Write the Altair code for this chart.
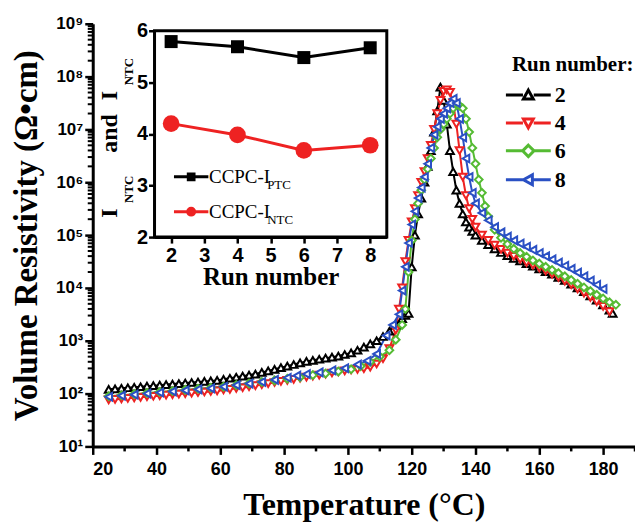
import altair as alt
import pandas as pd

# ---------------- main chart data (log10 of resistivity) -------------
run2_T = [25, 27, 29, 31, 33, 35, 37, 39, 41, 43, 45, 47, 49, 51, 53, 55, 57, 59, 61, 63, 65, 67, 69, 71,
          73, 75, 77, 79, 81, 83, 85, 87, 89, 91, 93, 95, 97, 99, 101, 103, 105, 107, 109, 111, 113, 115,
          117, 118, 119, 120, 121, 122, 123, 124, 125, 126, 127, 128, 129, 130, 131, 132, 133, 134, 135,
          136, 137, 138, 139, 140, 142, 144, 146, 148, 150, 152, 154, 156, 158, 160, 162, 164, 166, 168,
          170, 172, 174, 176, 178, 180, 182, 183]
run2_log = [2.08, 2.09, 2.10, 2.11, 2.12, 2.13, 2.14, 2.15, 2.16, 2.17, 2.18, 2.19, 2.20, 2.21, 2.22, 2.23,
            2.24, 2.25, 2.27, 2.29, 2.31, 2.33, 2.35, 2.37, 2.40, 2.43, 2.46, 2.49, 2.52, 2.55, 2.58, 2.61,
            2.63, 2.65, 2.67, 2.69, 2.71, 2.74, 2.77, 2.82, 2.88, 2.94, 3.00, 3.08, 3.18, 3.30, 3.42, 3.48,
            3.52, 4.40, 5.00, 5.40, 5.70, 6.00, 6.30, 6.60, 6.95, 7.35, 7.80, 7.55, 7.10, 6.60, 6.20, 5.85,
            5.60, 5.40, 5.25, 5.15, 5.07, 5.00, 4.90, 4.82, 4.74, 4.67, 4.61, 4.56, 4.51, 4.46, 4.41, 4.36,
            4.31, 4.26, 4.20, 4.14, 4.07, 4.00, 3.93, 3.85, 3.77, 3.68, 3.58, 3.52]

run4_T = [25, 27, 29, 31, 33, 35, 37, 39, 41, 43, 45, 47, 49, 51, 53, 55, 57, 59, 61, 63, 65, 67, 69, 71,
          73, 75, 77, 79, 81, 83, 85, 87, 89, 91, 93, 95, 97, 99, 101, 103, 105, 107, 109, 111, 113, 115,
          116, 117, 118, 119, 120, 121, 122, 123, 124, 125, 126, 127, 128, 129, 130, 131, 132, 133, 134,
          135, 136, 137, 138, 139, 140, 142, 144, 146, 148, 150, 152, 154, 156, 158, 160, 162, 164, 166,
          168, 170, 172, 174, 176, 178, 180, 182]
run4_log = [1.88, 1.89, 1.90, 1.91, 1.92, 1.93, 1.94, 1.95, 1.96, 1.97, 1.98, 1.99, 2.00, 2.01, 2.02, 2.03,
            2.04, 2.05, 2.07, 2.08, 2.10, 2.11, 2.13, 2.15, 2.17, 2.19, 2.21, 2.23, 2.25, 2.27, 2.29, 2.31,
            2.33, 2.35, 2.37, 2.39, 2.41, 2.43, 2.45, 2.46, 2.47, 2.50, 2.56, 2.66, 2.85, 3.20, 3.60, 4.00,
            4.50, 4.90, 5.25, 5.50, 5.75, 6.00, 6.20, 6.45, 6.70, 7.00, 7.30, 7.55, 7.72, 7.75, 7.70, 7.50,
            7.10, 6.60, 6.10, 5.75, 5.50, 5.30, 5.15, 5.00, 4.90, 4.81, 4.73, 4.66, 4.60, 4.54, 4.48, 4.43,
            4.38, 4.32, 4.26, 4.20, 4.13, 4.06, 3.98, 3.90, 3.82, 3.74, 3.65, 3.55]

run6_T = [25, 29, 33, 37, 41, 45, 49, 53, 57, 61, 65, 69, 73, 77, 81, 85, 89, 93, 97, 101, 104, 107, 110,
          113, 115, 117, 118, 119, 120, 121, 122, 123, 124, 125, 126, 127, 128, 129, 130, 131, 132, 133,
          134, 135, 136, 137, 138, 139, 140, 141, 142, 143, 144, 146, 148, 150, 152, 154, 156, 158, 160,
          162, 164, 166, 168, 170, 172, 174, 176, 178, 180, 182, 184]
run6_log = [1.95, 1.97, 1.99, 2.01, 2.03, 2.05, 2.07, 2.09, 2.11, 2.13, 2.16, 2.19, 2.22, 2.25, 2.28, 2.31,
            2.35, 2.38, 2.42, 2.46, 2.52, 2.60, 2.70, 2.82, 3.02, 3.30, 3.60, 4.30, 4.90, 5.30, 5.60, 5.85,
            6.05, 6.25, 6.45, 6.65, 6.85, 7.00, 7.10, 7.20, 7.30, 7.40, 7.47, 7.45, 7.40, 7.20, 6.95, 6.65,
            6.35, 6.05, 5.80, 5.55, 5.35, 5.10, 4.95, 4.83, 4.74, 4.66, 4.59, 4.52, 4.46, 4.40, 4.34, 4.28,
            4.22, 4.15, 4.08, 4.01, 3.94, 3.87, 3.80, 3.73, 3.68]

run8_T = [25, 29, 33, 37, 41, 45, 49, 53, 57, 61, 65, 69, 73, 77, 81, 84, 87, 91, 95, 99, 103, 106, 109,
          112, 114, 116, 117, 118, 119, 120, 121, 122, 123, 124, 125, 126, 127, 128, 129, 130, 131, 132,
          133, 134, 135, 136, 137, 138, 139, 140, 142, 144, 146, 148, 150, 152, 154, 156, 158, 160, 162,
          164, 166, 168, 170, 172, 174, 176, 178, 180]
run8_log = [1.94, 1.96, 1.98, 2.00, 2.02, 2.04, 2.06, 2.08, 2.10, 2.13, 2.16, 2.19, 2.22, 2.26, 2.30, 2.34,
            2.37, 2.40, 2.44, 2.48, 2.55, 2.62, 2.75, 3.10, 3.30, 3.50, 3.95, 4.40, 4.85, 5.20, 5.45, 5.70,
            5.90, 6.10, 6.35, 6.65, 6.90, 7.05, 7.20, 7.30, 7.40, 7.50, 7.58, 7.50, 7.20, 6.85, 6.45, 6.10,
            5.80, 5.60, 5.42, 5.28, 5.15, 5.05, 4.97, 4.90, 4.84, 4.78, 4.72, 4.66, 4.60, 4.54, 4.48, 4.42,
            4.36, 4.29, 4.22, 4.14, 4.06, 3.98]

run_labels = ["2", "4", "6", "8"]
run_colors = ["#000000", "#ee2222", "#55bb33", "#2a50c4"]
run_shapes = ["triangle-up", "triangle-down", "diamond", "triangle-left"]

# ---------------- inset data -------------
inset_runs = [2, 4, 6, 8]
inset_ptc = [5.79, 5.69, 5.48, 5.67]
inset_ntc = [4.20, 3.98, 3.68, 3.78]
inset_kinds = ["PTC", "NTC"]
inset_colors = ["#000000", "#ee2222"]

x_ticks = [20, 40, 60, 80, 100, 120, 140, 160, 180]
x_minor = [30, 50, 70, 90, 110, 130, 150, 170, 190]
y_ticks = [1e1, 1e2, 1e3, 1e4, 1e5, 1e6, 1e7, 1e8, 1e9]
y_minor = [m * d for d in [1e1, 1e2, 1e3, 1e4, 1e5, 1e6, 1e7, 1e8] for m in range(2, 10)]

rows = []
for lab, T, L in zip(run_labels, [run2_T, run4_T, run6_T, run8_T], [run2_log, run4_log, run6_log, run8_log]):
    for t, l in zip(T, L):
        rows.append({"run": lab, "T": t, "rho": 10 ** l})
main_df = pd.DataFrame(rows)

inset_rows = []
for r, p, n in zip(inset_runs, inset_ptc, inset_ntc):
    inset_rows.append({"run": r, "val": p, "kind": "PTC"})
    inset_rows.append({"run": r, "val": n, "kind": "NTC"})
inset_df = pd.DataFrame(inset_rows)

SANS = "Liberation Sans"
SERIF = "Liberation Serif"
W, H = 544, 424

xscale = alt.Scale(domain=[20, 190], nice=False, zero=False)
yscale = alt.Scale(type="log", domain=[10, 1e9], nice=False)

xaxis = alt.Axis(values=x_ticks, title="Temperature (°C)", grid=False,
                 domainColor="black", domainWidth=3, tickColor="black", tickWidth=2.5, tickSize=8,
                 labelFont=SANS, labelFontSize=18, labelFontWeight="bold", labelColor="black", labelPadding=6,
                 titleFont=SERIF, titleFontSize=32, titleFontWeight="bold", titleColor="black",
                 titleX=W / 2, titleY=68, titleBaseline="alphabetic")
yaxis = alt.Axis(values=y_ticks, title="Volume Resistivity (Ω•cm)", grid=False,
                 labelExpr="'10' + ['⁰','¹','²','³','⁴','⁵','⁶','⁷','⁸','⁹'][round(log(datum.value)/LN10)]",
                 domainColor="black", domainWidth=3, tickColor="black", tickWidth=2.5, tickSize=8,
                 labelFont=SANS, labelFontSize=17, labelFontWeight="bold", labelColor="black", labelPadding=2,
                 titleFont=SERIF, titleFontSize=33, titleFontWeight="bold", titleColor="black",
                 titleX=-56, titleY=212, titleBaseline="alphabetic", titleAngle=270)

lines = alt.Chart(main_df).mark_line(strokeWidth=2).encode(
    x=alt.X("T:Q", scale=xscale, axis=xaxis),
    y=alt.Y("rho:Q", scale=yscale, axis=yaxis),
    color=alt.Color("run:N", scale=alt.Scale(domain=run_labels, range=run_colors), legend=None),
    detail="run:N",
)
points = alt.Chart(main_df).mark_point(filled=False, fill="white", fillOpacity=1, strokeWidth=2).encode(
    x=alt.X("T:Q", scale=xscale, axis=xaxis),
    y=alt.Y("rho:Q", scale=yscale, axis=yaxis),
    color=alt.Color("run:N", scale=alt.Scale(domain=run_labels, range=run_colors), legend=None),
    shape=alt.Shape("run:N", scale=alt.Scale(domain=run_labels, range=run_shapes), legend=None),
    size=alt.Size("run:N", scale=alt.Scale(domain=run_labels, range=[60, 60, 170, 220]), legend=None),
)
yminor_rules = alt.Chart(pd.DataFrame({"rho": y_minor})).mark_rule(color="black", strokeWidth=2).encode(
    y=alt.Y("rho:Q", scale=yscale, axis=yaxis), x=alt.value(-5), x2=alt.value(0))
xminor_rules = alt.Chart(pd.DataFrame({"T": x_minor})).mark_rule(color="black", strokeWidth=2.5).encode(
    x=alt.X("T:Q", scale=xscale, axis=xaxis), y=alt.value(H), y2=alt.value(H + 5))

main = alt.layer(lines, points, yminor_rules, xminor_rules)

# ---------------- main legend (line - marker - line symbols) -------------
P2 = "M-1.5,0H-0.36M0.36,0H1.5M0,-0.33L0.33,0.27L-0.33,0.27Z"
P4 = "M-1.5,0H-0.36M0.36,0H1.5M0,0.33L0.33,-0.27L-0.33,-0.27Z"
P6 = "M-1.5,0H-0.38M0.38,0H1.5M0,-0.38L0.38,0L0,0.38L-0.38,0Z"
P8 = "M-1.5,0H-0.33M0.27,0H1.5M-0.33,0L0.27,-0.33L0.27,0.33Z"
main_legend = alt.Legend(title="Run number:", orient="none", legendX=420.5, legendY=30, padding=0,
                         titleFont=SERIF, titleFontSize=21, titleFontWeight="bold", titleColor="black",
                         titlePadding=4, titleLimit=400,
                         labelFont=SERIF, labelFontSize=22, labelFontWeight="bold", labelColor="black",
                         labelOffset=10, symbolSize=900, symbolStrokeWidth=3, rowPadding=0)
main_legend_layer = alt.Chart(alt.Data(values=[{"run": r} for r in run_labels])).transform_filter(
    "false").mark_point(filled=False, strokeWidth=3, opacity=1).encode(
    color=alt.Color("run:N", scale=alt.Scale(domain=run_labels, range=run_colors), legend=main_legend),
    shape=alt.Shape("run:N", scale=alt.Scale(domain=run_labels, range=[P2, P4, P6, P8]), legend=main_legend),
)

# ---------------- inset -------------
ix_scale = alt.Scale(domain=[1.5, 8.5], range=[62, 295], nice=False, zero=False)
iy_scale = alt.Scale(domain=[2, 6], range=[214, 7], nice=False, zero=False)
ix_axis = alt.Axis(values=[2, 3, 4, 5, 6, 7, 8], orient="bottom", offset=-210, grid=False, format="d",
                   domainColor="black", domainWidth=3, tickColor="black", tickWidth=2.5, tickSize=6,
                   labelFont=SANS, labelFontSize=20, labelFontWeight="bold", labelColor="black", labelPadding=2,
                   title="Run number", titleFont=SERIF, titleFontSize=25, titleFontWeight="bold",
                   titleColor="black", titlePadding=0)
iy_axis = alt.Axis(values=[2, 3, 4, 5, 6], orient="left", offset=-62, grid=False, format="d",
                   domainColor="black", domainWidth=3, tickColor="black", tickWidth=2.5, tickSize=6,
                   labelFont=SANS, labelFontSize=20, labelFontWeight="bold", labelColor="black", labelPadding=1,
                   title=None)

ix = alt.X("run:Q", scale=ix_scale, axis=ix_axis)
iy = alt.Y("val:Q", scale=iy_scale, axis=iy_axis)

inset_frame = alt.Chart(alt.Data(values=[{}])).mark_rect(fill="white", stroke="black", strokeWidth=3).encode(
    x=alt.X(datum=1.5, type="quantitative", scale=ix_scale, axis=ix_axis),
    x2=alt.X2(datum=8.5),
    y=alt.Y(datum=2, type="quantitative", scale=iy_scale, axis=iy_axis),
    y2=alt.Y2(datum=6),
)
inset_lines = alt.Chart(inset_df).mark_line(strokeWidth=3).encode(
    x=ix, y=iy,
    color=alt.Color("kind:N", scale=alt.Scale(domain=inset_kinds, range=inset_colors), legend=None),
)
inset_sq = alt.Chart(inset_df).transform_filter("datum.kind === 'PTC'").mark_square(
    size=170, color="#000000", opacity=1).encode(x=ix, y=iy)
inset_ci = alt.Chart(inset_df).transform_filter("datum.kind === 'NTC'").mark_circle(
    size=280, color="#ee2222", opacity=1).encode(x=ix, y=iy)


def label(txt, x, y, size, angle=0, weight="normal", align="left"):
    return alt.Chart(alt.Data(values=[{}])).mark_text(
        text=txt, font=SERIF, fontSize=size, fontWeight=weight, color="black", angle=angle,
        align=align, baseline="alphabetic").encode(x=alt.value(x), y=alt.value(y))


texts = [
    label("I", 24, 190, 24, 270, "bold", "center"),
    label("NTC", 40, 166, 13, 270, "bold", "center"),
    label("and", 24, 110, 24, 270, "bold", "center"),
    label("I", 24, 72, 24, 270, "bold", "center"),
    label("NTC", 40, 48, 13, 270, "bold", "center"),
    label("PTC", 175, 166, 13),
    label("NTC", 175, 201, 13),
]

inset = alt.layer(inset_frame, inset_lines, inset_sq, inset_ci, *texts)

PP = "M-1.5,0H1.5M-0.25,-0.25H0.25V0.25H-0.25Z"
PN = "M-1.5,0H1.5M-0.3,0A0.3,0.3,0,1,1,0.3,0A0.3,0.3,0,1,1,-0.3,0"
inset_legend = alt.Legend(title=None, orient="none", legendX=85.75, legendY=140.5, padding=0,
                          labelExpr="'CCPC-I'", labelFont=SERIF, labelFontSize=19, labelColor="black",
                          labelOffset=5, symbolSize=529, symbolStrokeWidth=3, rowPadding=12)
inset_legend_layer = alt.Chart(alt.Data(values=[{"kind": k} for k in inset_kinds])).transform_filter(
    "false").mark_point(filled=True, strokeWidth=3, opacity=1).encode(
    fill=alt.Fill("kind:N", scale=alt.Scale(domain=inset_kinds, range=inset_colors), legend=inset_legend),
    stroke=alt.Stroke("kind:N", scale=alt.Scale(domain=inset_kinds, range=inset_colors), legend=inset_legend),
    shape=alt.Shape("kind:N", scale=alt.Scale(domain=inset_kinds, range=[PP, PN]), legend=inset_legend),
)

chart = alt.layer(main, inset, main_legend_layer, inset_legend_layer).resolve_scale(
    x="independent", y="independent", color="independent", shape="independent",
    fill="independent", stroke="independent"
).properties(
    width=W, height=H,
    autosize=alt.AutoSizeParams(type="none"),
    padding={"left": 85, "top": 15, "right": 0, "bottom": 76},
    background="white",
).configure_view(stroke=None)

chart.save("out.html", embed_options={"renderer": "svg", "actions": False})
